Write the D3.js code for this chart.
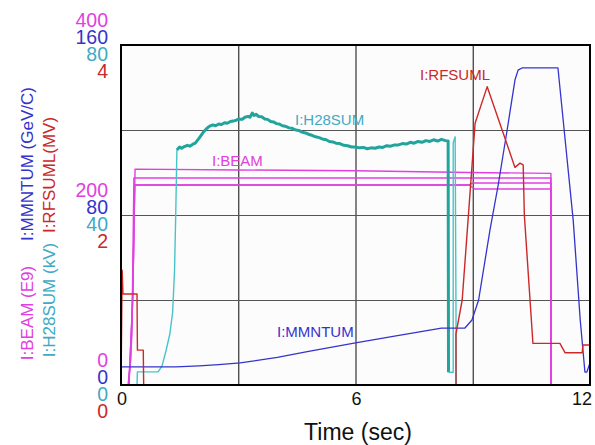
<!DOCTYPE html>
<html>
<head>
<meta charset="utf-8">
<script src="https://cdn.jsdelivr.net/npm/d3@7"></script>
<style>
body { margin:0; background:#fff; }
text { font-family: Arial, "Liberation Sans", sans-serif; }
</style>
</head>
<body>
<div id="chart"></div>
<script>
// time axis + tick labels
var xTicks = [0, 6, 12],
	gridT = [3, 6, 9],
	beamTicks = [0, 200, 400],
	mmTicks = [0, 80, 160],
	h28Ticks = [0, 40, 80],
	rfTicks = [0, 2, 4];

// I:BEAM (E9), four traces  [sec, value]
var beamA = [[0.18,0],[0.25,30],[0.32,150],[0.36,254],[3,253],[6,252],[8.9,250],[11.0,249],[11.0,0]];
var beamB = [[0.2,0],[0.28,60],[0.33,243.5],[11.0,243.5],[11.0,0]];
var beamC = [[0.2,0],[0.3,100],[0.35,235.3],[8.9,235.3],[9.0,237.6],[11.0,237.6],[11.0,0]];
var beamD = [[0.2,0],[0.3,100],[0.35,235.3],[8.9,235.3],[9.05,230.6],[11.0,230.6],[11.0,0]];

// I:MMNTUM (GeV/C)
var mmntum = [[0,8.5],[1.4,8.5],[2.0,9.0],[2.5,9.6],[3.05,10.4],[4.0,13.0],[4.8,15.8],[6.0,19.8],[7.0,23.0],
	[8.2,26.8],[8.8,26.8],[8.98,30.6],[9.15,40],[9.44,72.9],[9.65,94],[9.88,120],[10.08,143.5],[10.16,148.2],
	[10.26,149.2],[11.18,149.2],[11.57,77.6],[11.75,30.6],[11.87,6.1],[11.92,6.1],[12.0,10.35]];

// I:H28SUM (kV)
var h28sum = [[0.41,0],[0.42,3.1],[0.95,3.1],[1.05,4.5],[1.15,8],[1.25,12],[1.32,17],[1.37,27],[1.40,40],[1.43,55.3],
	[1.5,56.0],[1.55,55.7],[1.62,56.1],[1.7,56.4],[1.76,56.2],[1.83,56.6],[1.9,56.9],[2.0,58.1],[2.1,59.4],[2.2,60.4],
	[2.27,60.9],[2.35,61.2],[2.42,61.0],[2.5,61.4],[2.57,61.3],[2.65,61.7],[2.72,61.6],[2.8,62.0],[2.87,62.1],[2.95,62.3],
	[3.02,62.6],[3.1,62.5],[3.17,63.0],[3.25,63.2],[3.3,63.0],[3.36,64.0],[3.4,63.4],[3.46,63.7],[3.52,63.2],
	[3.6,63.1],[3.68,62.6],[3.75,62.5],[3.83,62.0],[3.9,61.9],[3.98,61.5],[4.05,61.4],[4.13,61.0],[4.2,60.9],
	[4.3,60.5],[4.38,60.4],[4.47,60.0],[4.55,59.9],[4.63,59.5],[4.72,59.3],[4.8,59.0],[4.9,58.7],[4.98,58.4],
	[5.07,58.2],[5.15,57.9],[5.25,57.7],[5.33,57.3],[5.42,57.2],[5.5,56.9],[5.6,56.8],[5.7,56.4],[5.8,56.3],
	[5.9,56.0],[6.0,56.0],[6.1,55.8],[6.2,55.9],[6.3,55.6],[6.4,55.8],[6.5,55.7],[6.6,56.0],[6.7,55.9],
	[6.8,56.3],[6.9,56.2],[7.0,56.5],[7.1,56.5],[7.2,56.8],[7.3,56.7],[7.4,57.1],[7.5,56.9],[7.6,57.3],
	[7.7,57.1],[7.8,57.5],[7.9,57.3],[8.0,57.7],[8.1,57.4],[8.2,57.8],[8.3,57.5],[8.37,57.4],[8.38,3.0],
	[8.5,3.0],[8.5,57.0],[8.55,58.4],[8.58,0]];

// I:RFSUML (MV)
var rfsuml = [[0,0],[0.03,1.35],[0.05,1.07],[0.41,1.07],[0.42,0.41],[0.57,0.41],[0.58,0],[8.57,0],[8.57,0.6],
	[8.73,1.0],[8.88,1.94],[9.06,3.08],[9.37,3.51],[10.08,2.56],[10.21,2.61],[10.29,2.59],[10.32,2.0],[10.54,0.49],
	[11.23,0.49],[11.36,0.38],[11.8,0.38],[11.82,0.47],[12.0,0.47]];

var C_BEAM = "#e040e0", C_MM = "#3434cc", C_H28 = "#40aac4", C_H28L = "#20a49c", C_RF = "#cc2828";

var W = 595, H = 445, L = 121, R = 590, T = 45, B = 385;
var svg = d3.select("#chart").append("svg").attr("width", W).attr("height", H);

var x = d3.scaleLinear().domain([0, 12]).range([L, R]);
var yBeam = d3.scaleLinear().domain([0, 400]).range([B, T]);
var yMM = d3.scaleLinear().domain([0, 160]).range([B, T]);
var yH28 = d3.scaleLinear().domain([0, 80]).range([B, T]);
var yRF = d3.scaleLinear().domain([0, 4]).range([B, T]);

svg.append("rect").attr("x", L).attr("y", T).attr("width", R - L).attr("height", B - T).attr("fill", "#fcfcfc");

// grid
svg.append("g").attr("transform", "translate(0," + B + ")")
	.call(d3.axisBottom(x).tickValues(gridT).tickSize(-(B - T)).tickFormat(""))
	.call(function(g){ g.select(".domain").remove(); g.selectAll("line").attr("stroke", "#333").attr("stroke-width", 1.2); });
svg.append("g").attr("transform", "translate(" + L + ",0)")
	.call(d3.axisLeft(yBeam).tickValues([100, 200, 300]).tickSize(-(R - L)).tickFormat(""))
	.call(function(g){ g.select(".domain").remove(); g.selectAll("line").attr("stroke", "#555").attr("stroke-width", 1.2); });

function drawLine(data, ys, color, w)
{
	var line = d3.line().x(function(d){return x(d[0])}).y(function(d){return ys(d[1])});
	svg.append("path").datum(data).attr("d", line).attr("fill", "none")
		.attr("stroke", color).attr("stroke-width", w).attr("stroke-linejoin", "round");
}

drawLine(beamA, yBeam, C_BEAM, 1.4);
drawLine(beamB, yBeam, C_BEAM, 1.4);
drawLine(beamC, yBeam, C_BEAM, 1.4);
drawLine(beamD, yBeam, C_BEAM, 1.4);
var nH = h28sum.length;
drawLine(h28sum.slice(0, 10), yH28, "#48c4c8", 1.4);
drawLine(h28sum.slice(9, nH - 4), yH28, C_H28L, 3);
drawLine(h28sum.slice(nH - 5), yH28, "#48c4c8", 1.4);
drawLine(mmntum, yMM, C_MM, 1.3);
drawLine(rfsuml, yRF, C_RF, 1.4);

// frame
svg.append("rect").attr("x", L).attr("y", T).attr("width", R - L).attr("height", B - T)
	.attr("fill", "none").attr("stroke", "#000").attr("stroke-width", 2);

// series labels
var lab = [["I:H28SUM", 295, 125, C_H28], ["I:BEAM", 212, 166, C_BEAM], ["I:RFSUML", 420, 80, C_RF], ["I:MMNTUM", 277, 337, C_MM]];
lab.forEach(function(d){
	svg.append("text").attr("x", d[1]).attr("y", d[2]).attr("fill", d[3]).attr("font-size", 15).text(d[0]);
});

// stacked y tick labels
var groups = [[beamTicks, yBeam, C_BEAM, -25.5], [mmTicks, yMM, C_MM, -8.5], [h28Ticks, yH28, C_H28, 9], [rfTicks, yRF, C_RF, 26]];
groups.forEach(function(gp){
	svg.selectAll(null).data(gp[0]).enter().append("text")
		.attr("x", 108).attr("y", function(d){return gp[1](d) + gp[3]})
		.attr("dy", "0.36em").attr("text-anchor", "end").attr("font-size", 19.5)
		.attr("fill", gp[2]).text(function(d){return d});
});

// x tick labels
svg.selectAll(null).data(xTicks).enter().append("text")
	.attr("x", function(d){return d == 12 ? x(d) - 8 : x(d) + 1}).attr("y", 405)
	.attr("text-anchor", "middle").attr("font-size", 18).attr("fill", "#111").text(function(d){return d});
svg.append("text").attr("x", 358).attr("y", 440).attr("text-anchor", "middle")
	.attr("font-size", 23).attr("fill", "#111").text("Time (sec)");

// axis titles
var titles = [["I:BEAM (E9)", 33, 313, C_BEAM], ["I:MMNTUM (GeV/C)", 33, 164, C_MM],
	["I:H28SUM (kV)", 55, 300, C_H28], ["I:RFSUML(MV)", 55, 175, C_RF]];
titles.forEach(function(d){
	svg.append("text").attr("transform", "translate(" + d[1] + "," + d[2] + ") rotate(-90)")
		.attr("text-anchor", "middle").attr("font-size", 17).attr("fill", d[3]).text(d[0]);
});
</script>
</body>
</html>
